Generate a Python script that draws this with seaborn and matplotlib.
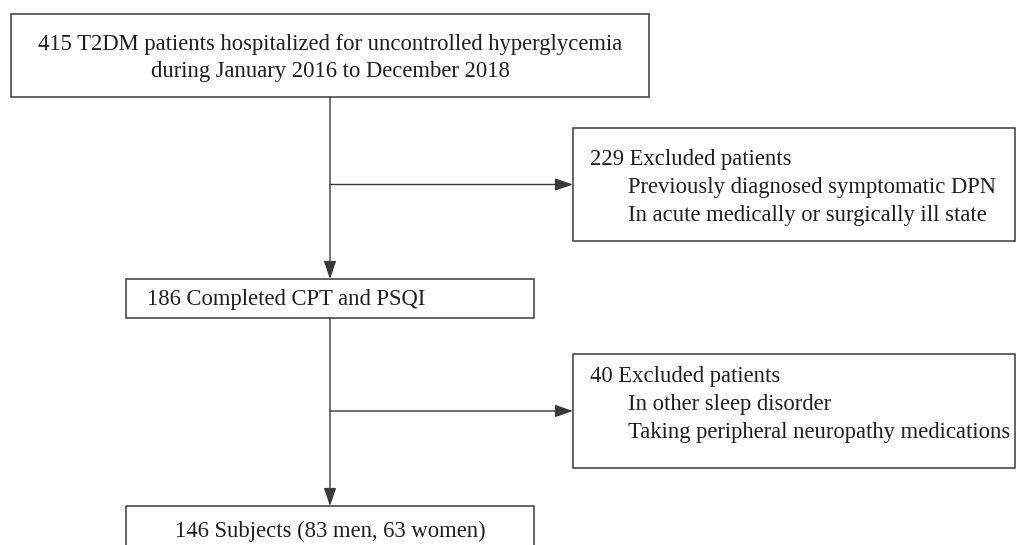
import matplotlib
matplotlib.use("Agg")
import matplotlib.pyplot as plt
import seaborn as sns
from matplotlib.patches import Rectangle

# ---- chart content ----
start_lines = ["415 T2DM patients hospitalized for uncontrolled hyperglycemia",
               "during January 2016 to December 2018"]
step1_label = "186 Completed CPT and PSQI"
final_label = "146 Subjects (83 men, 63 women)"
excl1_head = "229 Excluded patients"
excl1_items = ["Previously diagnosed symptomatic DPN",
               "In acute medically or surgically ill state"]
excl2_head = "40 Excluded patients"
excl2_items = ["In other sleep disorder",
               "Taking peripheral neuropathy medications"]

# ---- layout (pixel space, y down) ----
boxes = {
    "start": (11, 14, 649, 97),
    "step1": (126, 279, 534, 318),
    "final": (126, 506, 534, 560),
    "excl1": (573, 128, 1015, 241),
    "excl2": (573, 354, 1015, 468),
}
spine_x = 330
EDGE = "#3a3a3a"
FS = 16.3

sns.set_theme(style="white")
plt.rcParams["font.family"] = ["Liberation Serif", "DejaVu Serif"]

fig = plt.figure(figsize=(10.16, 5.45), dpi=100)
ax = fig.add_axes([0, 0, 1, 1])
ax.set_xlim(0, 1016)
ax.set_ylim(545, 0)
ax.axis("off")

for x0, y0, x1, y1 in boxes.values():
    ax.add_patch(Rectangle((x0, y0), x1 - x0, y1 - y0, fill=False,
                           edgecolor=EDGE, linewidth=1.1))

arrow = dict(arrowstyle="-|>,head_length=1.1,head_width=0.38", color=EDGE,
             lw=1.0, shrinkA=0, shrinkB=0, mutation_scale=10)

# vertical flow
ax.annotate("", xy=(spine_x, boxes["step1"][1]), xytext=(spine_x, boxes["start"][3]),
            arrowprops=arrow)
ax.annotate("", xy=(spine_x, boxes["final"][1]), xytext=(spine_x, boxes["step1"][3]),
            arrowprops=arrow)
# side exclusions
for key in ["excl1", "excl2"]:
    x0, y0, x1, y1 = boxes[key]
    ym = (y0 + y1) / 2
    ax.annotate("", xy=(x0, ym), xytext=(spine_x, ym), arrowprops=arrow)

txt = dict(fontsize=FS, color="#1e1e1e", va="baseline")

ax.text(spine_x, 50, start_lines[0], ha="center", **txt)
ax.text(spine_x, 77, start_lines[1], ha="center", **txt)
ax.text(147, 305, step1_label, ha="left", **txt)
ax.text(spine_x, 537, final_label, ha="center", **txt)

ax.text(590, 165, excl1_head, ha="left", **txt)
for i, s in enumerate(excl1_items):
    ax.text(628, 193 + 27.5 * i, s, ha="left", **txt)

ax.text(590, 382, excl2_head, ha="left", **txt)
for i, s in enumerate(excl2_items):
    ax.text(628, 410 + 28 * i, s, ha="left", **txt)

fig.savefig("out.png", dpi=100, facecolor="white")
